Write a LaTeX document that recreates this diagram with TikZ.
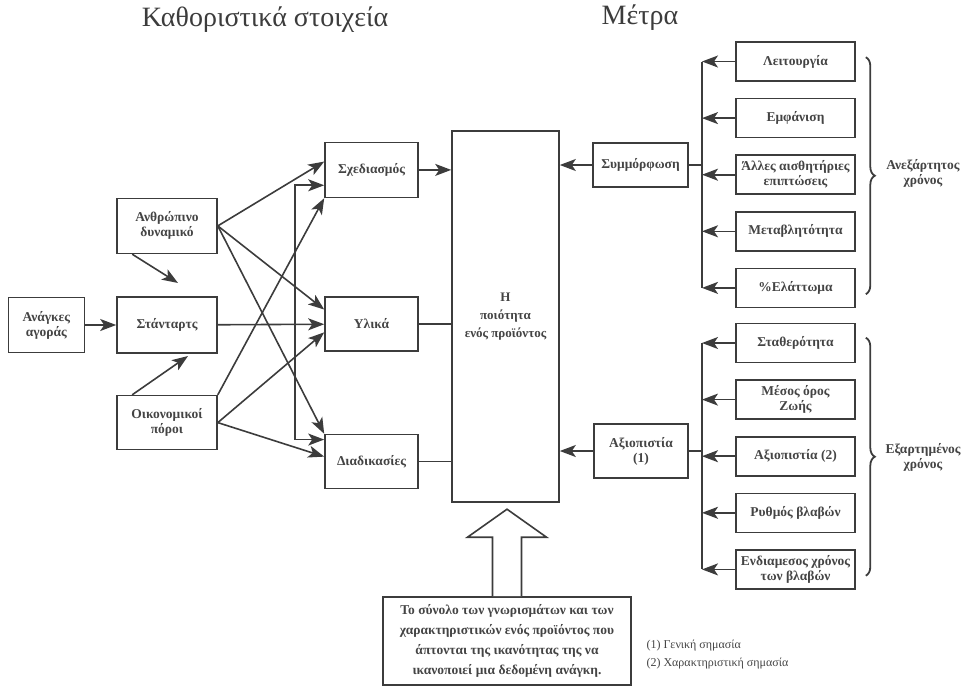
\documentclass[tikz,border=0pt]{standalone}
\usepackage{fontspec}
\setmainfont{Liberation Serif}
\usetikzlibrary{arrows.meta,positioning,calc,decorations.pathreplacing}
\definecolor{Ink}{HTML}{3C3C3C}
\definecolor{Txt}{HTML}{444444}

\begin{document}
\begin{tikzpicture}[x=1pt,y=-1pt,
    box/.style={draw=Ink,line width=1.6pt,align=center,text=Txt,
      font=\bfseries\fontsize{13.5}{15}\selectfont,inner sep=1pt},
    meas/.style={box,minimum width=119pt,minimum height=39pt},
    arr/.style={-{Stealth[length=16pt,width=12pt,inset=4pt]},line width=1.6pt,Ink},
    link/.style={line width=1.6pt,Ink},
    brc/.style={decorate,decoration={brace,amplitude=9pt},line width=1.8pt,Ink},
    head/.style={font=\fontsize{28}{32}\selectfont,text=Ink}
  ]
    \useasboundingbox (0,0) rectangle (968,686);
    \node[head] (t1) at (265,20) {Καθοριστικά στοιχεία};
    \node[head] (t2) at (640,18) {Μέτρα};

    % left side
    \node[box,minimum width=100pt,minimum height=56pt] (std) at (167,325) {Στάνταρτς};
    \node[box,minimum width=100pt,minimum height=55pt,above=42pt of std] (staff) {Ανθρώπινο\\δυναμικό};
    \node[box,minimum width=100pt,minimum height=54pt,below=41pt of std] (funds) {Οικονομικοί\\πόροι};
    \node[box,minimum width=76pt,minimum height=55pt,left=31pt of std] (needs) {Ανάγκες\\αγοράς};

    \node[box,minimum width=93pt,minimum height=54pt] (mat) at (371.5,324) {Υλικά};
    \node[box,minimum width=93pt,minimum height=55pt,above=98pt of mat] (design) {Σχεδιασμός};
    \node[box,minimum width=93pt,minimum height=54pt,below=82pt of mat] (proc) {Διαδικασίες};

    \node[box,minimum width=107pt,minimum height=371pt,font=\bfseries\fontsize{13}{18}\selectfont]
      (q) at (505.5,316.5) {Η\\ποιότητα\\ενός προϊόντος};

    \draw[arr] (needs) -- (std);
    \coordinate (bus) at (295,325);
    \draw[arr] (std) -- (mat);
    \draw[arr] (bus) |- (design.198);
    \draw[arr] (bus) |- (proc.155);
    \draw[arr] (staff.east) -- (design.170);
    \draw[arr] (staff.east) -- (mat.163);
    \draw[arr] (staff.east) -- (proc.north west);
    \draw[arr] (funds.north east) -- (design.south west);
    \draw[arr] (funds.east) -- (mat.190);
    \draw[arr] (funds.east) -- (proc.174);
    \coordinate (s1) at (178,283);
    \coordinate (s2) at (188,356);
    \draw[arr] ([xshift=16pt]staff.south west) -- (s1);
    \draw[arr] ([xshift=16pt]funds.north west) -- (s2);

    \draw[arr] (design) -- (design -| q.west);
    \draw[link] (mat) -- (mat -| q.west);
    \draw[link] (proc) -- (proc -| q.west);

    % measures
    \node[box,minimum width=95pt,minimum height=44pt] (conf) at (640.5,165) {Συμμόρφωση};
    \node[box,minimum width=94pt,minimum height=54pt] (rel) at (641,451) {Αξιοπιστία\\(1)};

    \node[meas] (f1) at (795.5,61.5) {Λειτουργία};
    \node[meas,below=16pt of f1] (f2) {Εμφάνιση};
    \node[meas,below=16pt of f2] (f3) {Άλλες αισθητήριες\\επιπτώσεις};
    \node[meas,below=16pt of f3] (f4) {Μεταβλητότητα};
    \node[meas,below=16pt of f4] (f5) {\%Ελάττωμα};

    \node[meas] (g1) at (795.5,343) {Σταθερότητα};
    \node[meas,below=16pt of g1] (g2) {Μέσος όρος\\Ζωής};
    \node[meas,below=16pt of g2] (g3) {Αξιοπιστία (2)};
    \node[meas,below=16pt of g3] (g4) {Ρυθμός βλαβών};
    \node[meas,below=16pt of g4] (g5) {Ενδιαμεσος χρόνος\\των βλαβών};

    \draw[arr] (conf.west) -- (conf.west -| q.east);
    \draw[arr] (rel.west) -- (rel.west -| q.east);

    \coordinate (rb) at (702,165);
    \coordinate (rc) at (702,451);
    \draw[link] (conf.east) -- (rb);
    \draw[link] (rb |- f1.west) -- (rb |- f5.west);
    \draw[arr] (f1.west) -- (rb |- f1.west);
    \draw[arr] (f2.west) -- (rb |- f2.west);
    \draw[arr] (f3.west) -- (rb |- f3.west);
    \draw[arr] (f4.west) -- (rb |- f4.west);
    \draw[arr] (f5.west) -- (rb |- f5.west);

    \draw[link] (rel.east) -- (rc);
    \draw[link] (rc |- g1.west) -- (rc |- g5.west);
    \draw[arr] (g1.west) -- (rc |- g1.west);
    \draw[arr] (g2.west) -- (rc |- g2.west);
    \draw[arr] (g3.west) -- (rc |- g3.west);
    \draw[arr] (g4.west) -- (rc |- g4.west);
    \draw[arr] (g5.west) -- (rc |- g5.west);

    \draw[brc] ([xshift=10pt,yshift=-16pt]f1.north east) -- ([xshift=10pt,yshift=14pt]f5.south east);
    \draw[brc] ([xshift=10pt,yshift=-15pt]g1.north east) -- ([xshift=10pt,yshift=14pt]g5.south east);
    \node[align=center,text=Txt,font=\bfseries\fontsize{13.5}{15}\selectfont] (indep) at (923,173) {Ανεξάρτητος\\χρόνος};
    \node[align=center,text=Txt,font=\bfseries\fontsize{13.5}{15}\selectfont] (dep) at (923,457) {Εξαρτημένος\\χρόνος};

    % definition
    \node[box,minimum width=248pt,minimum height=88pt,font=\bfseries\fontsize{13.5}{20}\selectfont]
      (note) at (507,641) {Το σύνολο των γνωρισμάτων και των\\χαρακτηριστικών ενός προϊόντος που\\άπτονται της ικανότητας της να\\ικανοποιεί μια δεδομένη ανάγκη.};
    \draw[link,fill=white] ([xshift=-14.5pt]note.north) -- ++(0,-59) -- ++(-25,0)
      -- ++(39.5,-28) -- ++(39.5,28) -- ++(-25,0) -- ++(0,59);

    \node[anchor=north west,align=left,text=Txt,font=\fontsize{12}{18}\selectfont]
      (key) at (643,636) {(1) Γενική σημασία\\(2) Χαρακτηριστική σημασία};
  \end{tikzpicture}
\end{document}
